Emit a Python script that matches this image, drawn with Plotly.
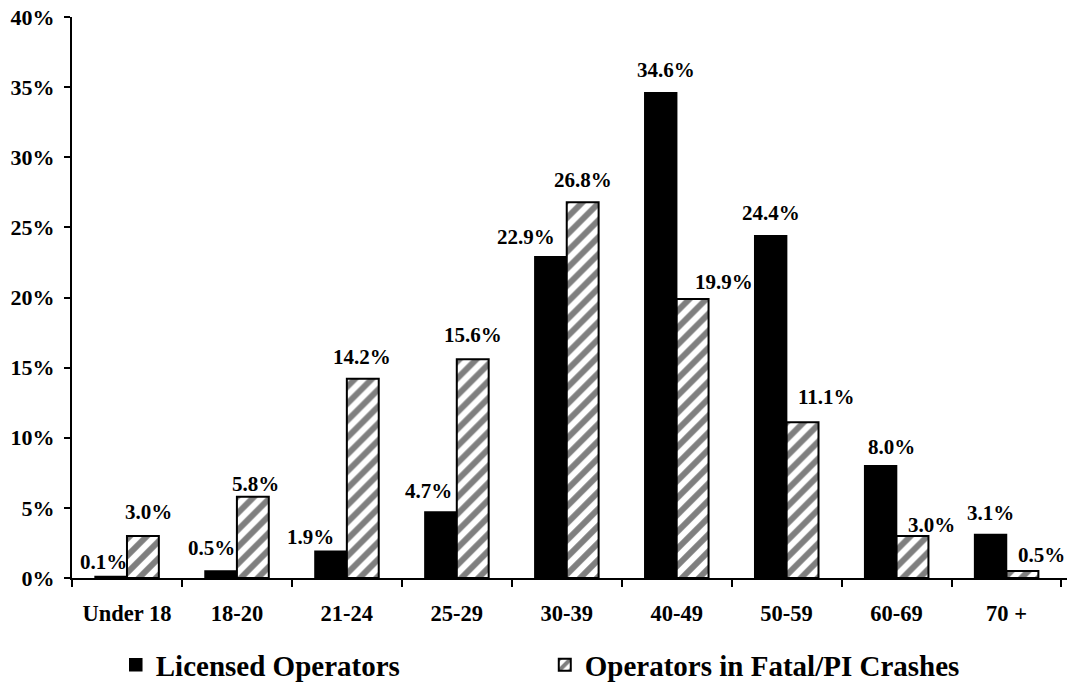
import plotly.graph_objects as go

categories = ["Under 18", "18-20", "21-24", "25-29", "30-39", "40-49", "50-59", "60-69", "70 +"]
licensed = [0.1, 0.5, 1.9, 4.7, 22.9, 34.6, 24.4, 8.0, 3.1]
crashes = [3.0, 5.8, 14.2, 15.6, 26.8, 19.9, 11.1, 3.0, 0.5]
y_ticks = [0, 5, 10, 15, 20, 25, 30, 35, 40]

# label placement tweaks (pixels): horizontal offset from bar centre, gap above bar top
lic_dx = [-7, -9, -20, -12, -25, 5, 0, 11, 0]
lic_dy = [15, 23, 14, 21, 20, 23, 23, 19, 22]
cr_dx = [6, 3, -1, 0, 0, 31, 24, 19, 19]
cr_dy = [24, 13, 22, 24, 22, 17, 25, 11, 16]

FONT = "Liberation Serif, Times New Roman, serif"

fig = go.Figure()
fig.add_trace(go.Bar(
    x=categories, y=licensed, name="Licensed Operators",
    marker=dict(color="black", line=dict(color="black", width=1.5)),
))
fig.add_trace(go.Bar(
    x=categories, y=crashes, name="Operators in Fatal/PI Crashes",
    marker=dict(color="white", line=dict(color="black", width=2),
                pattern=dict(shape="/", fgcolor="black", bgcolor="white", size=12, solidity=0.5)),
))

annotations = []
half = 16
for i, c in enumerate(categories):
    annotations.append(dict(x=c, y=licensed[i], xref="x", yref="y", text=f"{licensed[i]:.1f}%",
                            showarrow=False, xanchor="center", yanchor="middle",
                            xshift=-half + lic_dx[i], yshift=lic_dy[i],
                            font=dict(family=FONT, size=21, color="black", weight="bold")))
    annotations.append(dict(x=c, y=crashes[i], xref="x", yref="y", text=f"{crashes[i]:.1f}%",
                            showarrow=False, xanchor="center", yanchor="middle",
                            xshift=half + cr_dx[i], yshift=cr_dy[i],
                            font=dict(family=FONT, size=21, color="black", weight="bold")))

fig.update_layout(
    width=1073, height=694,
    margin=dict(l=72, r=6, t=17, b=116, autoexpand=False),
    paper_bgcolor="white", plot_bgcolor="white",
    barmode="group", bargap=0.42, bargroupgap=0,
    font=dict(family=FONT, color="black"),
    annotations=annotations,
    showlegend=True,
    legend=dict(orientation="h", x=0.044, xanchor="left", y=-0.155, yanchor="middle",
                font=dict(family=FONT, size=29, color="black", weight="bold"),
                entrywidth=384, itemwidth=30, bgcolor="rgba(0,0,0,0)"),
)
fig.update_xaxes(
    type="category", showline=True, linecolor="black", linewidth=2,
    ticks="outside", tickson="boundaries", ticklen=7, tickwidth=2, tickcolor="black",
    tickfont=dict(family=FONT, size=22.5, color="black", weight="bold"),
    ticklabelstandoff=14, showgrid=False, zeroline=False, automargin=False,
)
fig.update_yaxes(
    range=[0, 40], tickvals=y_ticks, ticktext=[f"{v}%" for v in y_ticks],
    showline=True, linecolor="black", linewidth=2,
    ticks="outside", ticklen=6, tickwidth=2, tickcolor="black",
    tickfont=dict(family=FONT, size=22, color="black", weight="bold"),
    ticklabelstandoff=5, ticklabeloverflow="allow",
    showgrid=False, zeroline=False, automargin=False,
)

fig.write_html("out.html", config={"displayModeBar": False},
               post_script="document.body.style.margin='0px';")
